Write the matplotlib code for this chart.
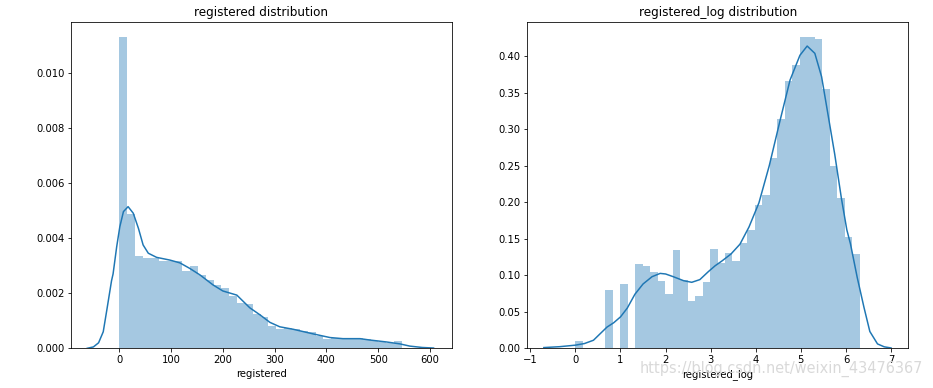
import numpy as np
import matplotlib
matplotlib.use("Agg")
import matplotlib.pyplot as plt

# ---- data: registered ----
reg_range = (0, 546)
reg_density = [11.31, 4.89, 3.34, 3.29, 3.27, 3.17, 3.18, 3.18, 2.81, 2.98,
               2.67, 2.49, 2.30, 2.20, 1.89, 1.64, 1.60, 1.24, 1.12, 0.82,
               0.71, 0.75, 0.69, 0.64, 0.58, 0.44, 0.35, 0.37, 0.37, 0.37,
               0.37, 0.35, 0.26, 0.24, 0.19, 0.26]  # x 1e-3
reg_kde_x = [-62, -50, -40, -31, -24, -15, -12, -5, 1, 8, 17, 27, 37, 46, 56,
             72, 98, 117, 136, 156, 181, 200, 227, 252, 272, 291, 310, 336,
             375, 407, 432, 465, 484, 516, 542, 561, 585, 607]
reg_kde_y = [0.0, 0.05, 0.2, 0.6, 1.4, 2.45, 2.7, 3.69, 4.41, 4.96, 5.14, 4.90,
             4.35, 3.75, 3.45, 3.30, 3.20, 3.10, 2.90, 2.66, 2.30, 2.08, 1.93,
             1.47, 1.21, 0.94, 0.78, 0.69, 0.52, 0.39, 0.35, 0.35, 0.30, 0.23,
             0.16, 0.08, 0.03, 0.01]  # x 1e-3

# ---- data: registered_log ----
log_range = (0, 6.304)
log_density = [0.0105, 0, 0, 0, 0.0798, 0, 0.0880, 0, 0.1154, 0.1126,
               0.1044, 0.0925, 0.0747, 0.1345, 0.0930, 0.0647, 0.0716, 0.0903,
               0.1359, 0.1172, 0.1305, 0.1195, 0.1445, 0.1619, 0.1961, 0.2098,
               0.2608, 0.3133, 0.3658, 0.3877, 0.4265, 0.4265, 0.4232, 0.3544,
               0.2494, 0.2052, 0.1527, 0.1290]
log_kde_x = [-0.70, -0.35, 0.0, 0.2, 0.4, 0.55, 0.7, 0.85, 1.0, 1.15, 1.32,
             1.5, 1.7, 1.88, 2.0, 2.17, 2.4, 2.58, 2.76, 2.95, 3.1, 3.25, 3.45,
             3.65, 3.85, 4.07, 4.3, 4.54, 4.76, 4.98, 5.14, 5.31, 5.46, 5.61,
             5.75, 5.9, 6.02, 6.1, 6.25, 6.4, 6.53, 6.7, 6.85, 7.0]
log_kde_y = [0.001, 0.0022, 0.0043, 0.0065, 0.011, 0.020, 0.029, 0.035, 0.043,
             0.055, 0.074, 0.088, 0.098, 0.1025, 0.1017, 0.098, 0.0925, 0.0903,
             0.094, 0.105, 0.113, 0.1195, 0.129, 0.1425, 0.166, 0.199, 0.25,
             0.312, 0.367, 0.401, 0.4136, 0.4036, 0.3716, 0.317, 0.266, 0.205,
             0.162, 0.143, 0.097, 0.056, 0.023, 0.006, 0.002, 0.0005]

reg_ticks = [0, 100, 200, 300, 400, 500, 600]
log_ticks = [-1, 0, 1, 2, 3, 4, 5, 6, 7]

C0 = '#1f77b4'
W, H = 933, 388
fig = plt.figure(figsize=(W / 72, H / 72), dpi=72)


def add_ax(x0, x1, y0, y1):
    return fig.add_axes([x0 / W, 1 - y1 / H, (x1 - x0) / W, (y1 - y0) / H])


ax1 = add_ax(71.3, 451.7, 22, 348.3)
edges = np.linspace(reg_range[0], reg_range[1], len(reg_density) + 1)
ax1.bar(edges[:-1], np.array(reg_density) * 1e-3, width=np.diff(edges),
        align='edge', color=C0, alpha=0.4, linewidth=0)
ax1.plot(reg_kde_x, np.array(reg_kde_y) * 1e-3, color=C0, lw=1.5)
ax1.set_xlim(-92.7, 642)
ax1.set_ylim(0, 0.01184)
ax1.set_xticks(reg_ticks)
ax1.set_yticks([0, 0.002, 0.004, 0.006, 0.008, 0.010])
ax1.yaxis.set_major_formatter(matplotlib.ticker.FormatStrFormatter('%.3f'))
ax1.set_xlabel('registered')
ax1.set_title('registered distribution')

ax2 = add_ax(527.3, 908.3, 22, 348.3)
edges2 = np.linspace(log_range[0], log_range[1], len(log_density) + 1)
ax2.bar(edges2[:-1], log_density, width=np.diff(edges2), align='edge',
        color=C0, alpha=0.4, linewidth=0)
ax2.plot(log_kde_x, log_kde_y, color=C0, lw=1.5)
ax2.set_xlim(-1.067, 7.383)
ax2.set_ylim(0, 0.4465)
ax2.set_xticks(log_ticks)
ax2.set_yticks(np.arange(0, 0.41, 0.05))
ax2.yaxis.set_major_formatter(matplotlib.ticker.FormatStrFormatter('%.2f'))
ax2.set_xlabel('registered_log')
ax2.set_title('registered_log distribution')

fig.text(923 / W, 1 - 369 / H, 'https://blog.csdn.net/weixin_43476367',
         ha='right', va='center', fontsize=14.5, color='#d9d9d9')

fig.savefig('out.png', dpi=72)
